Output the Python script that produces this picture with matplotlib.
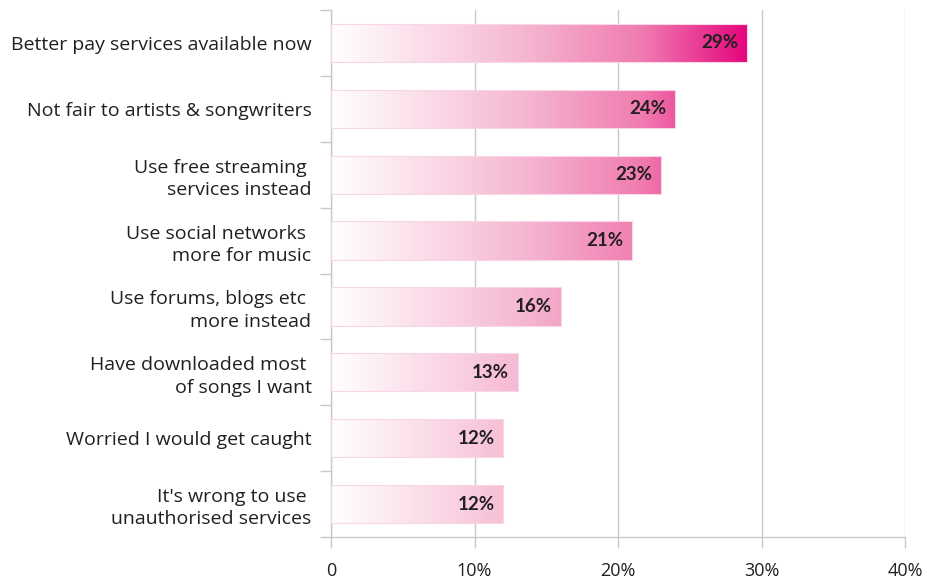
import numpy as np
import matplotlib.pyplot as plt
from matplotlib.colors import LinearSegmentedColormap

categories = [
    'Better pay services available now',
    'Not fair to artists & songwriters',
    'Use free streaming \nservices instead',
    'Use social networks \nmore for music',
    'Use forums, blogs etc \nmore instead',
    'Have downloaded most \nof songs I want',
    'Worried I would get caught',
    "It's wrong to use \nunauthorised services",
]
values = [29, 24, 23, 21, 16, 13, 12, 12]
xticks = [0, 10, 20, 30, 40]
xticklabels = ['0', '10%', '20%', '30%', '40%']

plt.rcParams['font.family'] = ['Open Sans', 'DejaVu Sans']

cmap = LinearSegmentedColormap.from_list(
    'pinkgrad', [(0, '#ffffff'), (0.45, '#f6b9d3'), (0.75, '#f07bb0'), (1.0, '#e5057e')])

fig = plt.figure(figsize=(9.27, 5.8), dpi=100)
ax = fig.add_axes([331 / 927, 43 / 580, 574 / 927, 527 / 580])

n = len(categories)
ys = np.arange(n)
h = 0.58
vmax = max(values)
bars = ax.barh(ys, values, height=h, color='none', edgecolor='#f9d6e6',
               linewidth=0.8, zorder=3)
grad = np.vstack([np.linspace(0, 1, 600)] * 2)
# gradient image, clipped to each bar
for b, v, y in zip(bars, values, ys):
    seg = ax.imshow(grad, cmap=cmap, vmin=0, vmax=1, aspect='auto',
                    extent=[0, vmax, y + h / 2, y - h / 2], zorder=2,
                    interpolation='bilinear')
    seg.set_clip_path(b)
    ax.text(v - 0.6, y, f'{v}%', ha='right', va='center', fontsize=13.5,
            fontweight='bold', family='Lato', color='#231f20', zorder=4)

ax.set_xlim(0, 40)
ax.set_ylim(n - 0.5, -0.5)
ax.set_xticks(xticks)
ax.set_xticklabels(xticklabels, fontsize=13, color='#231f20')
ax.set_yticks(ys)
ax.set_yticklabels(categories, fontsize=14, color='#231f20', linespacing=1.3)
ax.set_yticks(np.arange(n + 1) - 0.5, minor=True)
ax.tick_params(axis='y', which='major', length=0, pad=14)
ax.tick_params(axis='y', which='minor', length=8, color='#c8c8c8', width=1)
ax.tick_params(axis='x', length=8, color='#c8c8c8', width=1, pad=10)

ax.grid(axis='x', color='#c8c8c8', linewidth=1, zorder=0)
ax.set_axisbelow(True)
for s in ['top', 'right']:
    ax.spines[s].set_visible(False)
for s in ['left', 'bottom']:
    ax.spines[s].set_color('#c8c8c8')
    ax.spines[s].set_linewidth(1)

fig.savefig('out.png', dpi=100)
